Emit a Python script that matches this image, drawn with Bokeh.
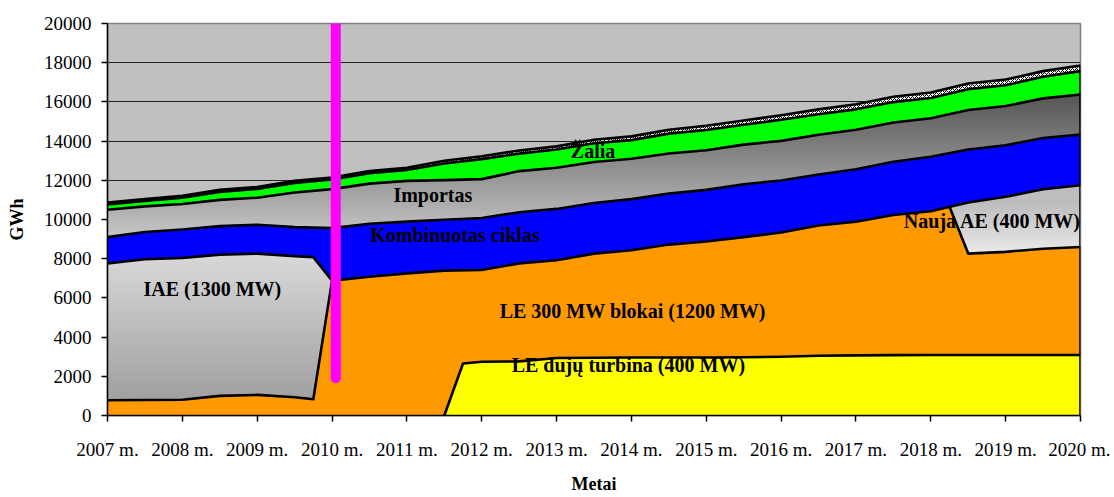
from bokeh.plotting import figure
from bokeh.models import Range1d, FixedTicker, Label
from bokeh.embed import file_html
from bokeh.resources import INLINE

# ---------------- data (GWh) ----------------
half_years = [2007.0, 2007.5, 2008.0, 2008.5, 2009.0, 2009.5, 2010.0, 2010.5, 2011.0,
              2011.5, 2012.0, 2012.5, 2013.0, 2013.5, 2014.0, 2014.5, 2015.0, 2015.5,
              2016.0, 2016.5, 2017.0, 2017.5, 2018.0, 2018.5, 2019.0, 2019.5, 2020.0]

# top of the thin hatched series
total_top = [10870, 11040, 11210, 11510, 11660, 11970, 12140, 12470, 12640,
             13000, 13230, 13520, 13730, 14070, 14240, 14580, 14780, 15050,
             15320, 15620, 15880, 16260, 16480, 16940, 17140, 17570, 17860]
# top of "Žalia"
green_top = [10770, 10940, 11110, 11410, 11560, 11870, 12040, 12360, 12530,
             12860, 13080, 13360, 13570, 13890, 14050, 14380, 14570, 14830,
             15090, 15370, 15620, 15990, 16200, 16650, 16850, 17280, 17570]
# top of "Importas"
import_top = [10500, 10670, 10790, 11000, 11110, 11380, 11550, 11830, 11970,
              12010, 12060, 12470, 12640, 12930, 13100, 13370, 13530, 13820,
              14010, 14320, 14580, 14950, 15170, 15590, 15790, 16180, 16380]
# top of "Kombinuotas ciklas"
blue_top = [9100, 9360, 9490, 9660, 9730, 9610, 9560, 9780, 9890,
            9990, 10080, 10370, 10540, 10840, 11040, 11330, 11510, 11800,
            11990, 12300, 12560, 12950, 13200, 13570, 13790, 14160, 14330]
# bottom of "Kombinuotas ciklas" (top of IAE / LE 300 MW blokai)
blue_bottom_x = [2007.0, 2007.5, 2008.0, 2008.5, 2009.0, 2009.5, 2009.75, 2010.0, 2010.5,
                 2011.0, 2011.5, 2012.0, 2012.5, 2013.0, 2013.5, 2014.0, 2014.5, 2015.0,
                 2015.5, 2016.0, 2016.5, 2017.0, 2017.5, 2018.0, 2018.5, 2019.0, 2019.5, 2020.0]
blue_bottom = [7760, 7970, 8040, 8210, 8260, 8130, 8080, 6880, 7080,
               7250, 7390, 7420, 7760, 7920, 8260, 8430, 8720, 8880,
               9100, 9340, 9690, 9890, 10230, 10420, 10870, 11160, 11540, 11750]
# IAE (1300 MW) lower edge
iae_bottom_x = [2007.0, 2007.5, 2008.0, 2008.5, 2009.0, 2009.5, 2009.75]
iae_bottom = [775, 790, 800, 1000, 1050, 930, 830]
iae_end_year = 2010.0
# LE dujų turbina (400 MW)
yellow_x = [2011.5, 2011.75, 2012.0, 2012.5, 2013.0, 2013.5, 2014.0, 2014.5, 2015.0, 2015.5,
            2016.0, 2016.5, 2017.0, 2017.5, 2018.0, 2018.5, 2019.0, 2019.5, 2020.0]
yellow_top = [0, 2650, 2740, 2760, 2930, 2950, 2960, 2960, 2960, 2970,
              3000, 3050, 3070, 3080, 3090, 3090, 3090, 3090, 3090]
# Nauja AE (400 MW)
nauja_x = [2018.25, 2018.5, 2019.0, 2019.5, 2020.0]
nauja_top = [10650, 10870, 11160, 11540, 11750]
nauja_bottom = [10650, 8260, 8350, 8510, 8600]

# marker line (2010)
marker_year = 2010.05
marker_from = 1900
marker_to = 20000

tick_years = [2007, 2008, 2009, 2010, 2011, 2012, 2013, 2014, 2015, 2016, 2017, 2018, 2019, 2020]
tick_labels = ["2007 m.", "2008 m.", "2009 m.", "2010 m.", "2011 m.", "2012 m.", "2013 m.",
               "2014 m.", "2015 m.", "2016 m.", "2017 m.", "2018 m.", "2019 m.", "2020 m."]
y_ticks = [0, 2000, 4000, 6000, 8000, 10000, 12000, 14000, 16000, 18000, 20000]

band_names = ["Importas", "Kombinuotas ciklas", "Žalia", "Nauja AE (400 MW)",
              "IAE (1300 MW)", "LE 300 MW blokai (1200 MW)", "LE dujų turbina (400 MW)"]

# ---------------- figure ----------------
SERIF = "Liberation Serif"
p = figure(width=1110, height=496, output_backend="svg", toolbar_location=None,
           x_range=Range1d(2007, 2020), y_range=Range1d(0, 20000),
           min_border_left=107, min_border_right=30, min_border_top=23, min_border_bottom=78)
p.background_fill_color = "#C0C0C0"
p.border_fill_color = "white"
p.outline_line_color = "#808080"
p.outline_line_width = 1.5

p.xgrid.visible = False
p.ygrid.ticker = FixedTicker(ticks=y_ticks)
p.ygrid.grid_line_color = "#202020"
p.ygrid.grid_line_width = 1

p.xaxis.ticker = FixedTicker(ticks=tick_years)
p.xaxis.major_label_overrides = {y: l for y, l in zip(tick_years, tick_labels)}
p.yaxis.ticker = FixedTicker(ticks=y_ticks)
for ax in (p.xaxis, p.yaxis):
    ax.axis_line_color = "black"
    ax.axis_line_width = 1.5
    ax.major_tick_line_color = "black"
    ax.major_tick_line_width = 1.5
    ax.major_tick_in = 0
    ax.major_tick_out = 6
    ax.minor_tick_line_color = None
    ax.major_label_text_font = SERIF
    ax.major_label_text_font_size = "19px"
    ax.major_label_text_color = "black"
    ax.axis_label_text_font = SERIF
    ax.axis_label_text_font_size = "18px"
    ax.axis_label_text_font_style = "bold"
    ax.axis_label_text_color = "black"
p.xaxis.axis_label = "Metai"
p.yaxis.axis_label = "GWh"
p.xaxis.major_label_standoff = 17
p.xaxis.axis_label_standoff = 11
p.yaxis.major_label_standoff = 10
p.yaxis.axis_label_standoff = 14


def poly(upper_x, upper_y, lower_x, lower_y):
    pts = list(zip(upper_x, upper_y))
    pts += list(zip(lower_x[::-1], lower_y[::-1]))
    return pts


def clip_above(pts, c):
    out = []
    n = len(pts)
    for i in range(n):
        x1, y1 = pts[i]
        x2, y2 = pts[(i + 1) % n]
        in1, in2 = y1 >= c, y2 >= c
        if in1:
            out.append((x1, y1))
        if in1 != in2:
            t = (c - y1) / (y2 - y1)
            out.append((x1 + t * (x2 - x1), c))
    return out


def mix(a, b, t):
    v = [round(a[i] + (b[i] - a[i]) * t) for i in range(3)]
    return "#%02x%02x%02x" % tuple(v)


def flat(pts, color, **kw):
    p.patch([q[0] for q in pts], [q[1] for q in pts], fill_color=color, line_color=None, **kw)


def gradient(pts, y_lo, y_hi, c_lo, c_hi, n=40):
    for k in range(n):
        sub = pts if k == 0 else clip_above(pts, y_lo + (y_hi - y_lo) * k / n)
        if len(sub) < 3:
            break
        flat(sub, mix(c_lo, c_hi, (k + 0.5) / n))


# ---------------- fills ----------------
flat(poly(half_years, total_top, half_years, green_top), "white",
     hatch_pattern="x", hatch_color="black", hatch_scale=4, hatch_weight=1)
flat(poly(half_years, green_top, half_years, import_top), "#00FF00")
gradient(poly(half_years, import_top, half_years, blue_top), 9000, 16500,
         (200, 200, 200), (84, 84, 84))
flat(poly(half_years, blue_top, blue_bottom_x, blue_bottom), "#0000FF")
flat(poly(blue_bottom_x, blue_bottom, [2007.0, 2020.0], [0, 0]), "#FF9900")

iae_upper_x = [x for x in blue_bottom_x if x <= iae_end_year]
iae_upper_y = blue_bottom[:len(iae_upper_x)]
iae_pts = poly(iae_upper_x, iae_upper_y, iae_bottom_x, iae_bottom)
gradient(iae_pts, 800, 8200, (160, 160, 160), (216, 216, 216))

yellow_pts = poly(yellow_x, yellow_top, [yellow_x[0], 2020.0], [0, 0])
flat(yellow_pts, "#FFFF00")

nauja_pts = poly(nauja_x, nauja_top, nauja_x, nauja_bottom)
gradient(nauja_pts, 8260, 10870, (234, 234, 234), (188, 188, 188))

# ---------------- outlines ----------------
LW = 2.6
for ys in (total_top, green_top, import_top, blue_top):
    p.line(half_years, ys, line_color="black", line_width=LW, line_join="round")
p.line(blue_bottom_x, blue_bottom, line_color="black", line_width=LW, line_join="round")
p.line([iae_end_year] + iae_bottom_x[::-1], [iae_upper_y[-1]] + iae_bottom[::-1],
       line_color="black", line_width=LW, line_join="round")
p.line(yellow_x, yellow_top, line_color="black", line_width=LW, line_join="round")
p.line(nauja_x, nauja_bottom, line_color="black", line_width=LW, line_join="round")
p.segment(x0=[2020.0], y0=[0], x1=[2020.0], y1=[total_top[-1]], line_color="black", line_width=LW)

# magenta marker
p.segment(x0=[marker_year], y0=[marker_from], x1=[marker_year], y1=[marker_to],
          line_color="#FF00FF", line_width=10, line_cap="round")

# ---------------- band labels ----------------
label_pos = [(2010.82, 11250), (2010.51, 9220), (2013.19, 13470), (2017.64, 9930),
             (2007.48, 6440), (2012.24, 5330), (2012.40, 2600)]
for name, (lx, ly) in zip(band_names, label_pos):
    p.add_layout(Label(x=lx, y=ly, text=name, text_font=SERIF, text_font_size="20px",
                       text_font_style="bold", text_color="black",
                       text_align="left", text_baseline="middle", level="overlay"))

open("out.html", "w").write(file_html(p, INLINE))
